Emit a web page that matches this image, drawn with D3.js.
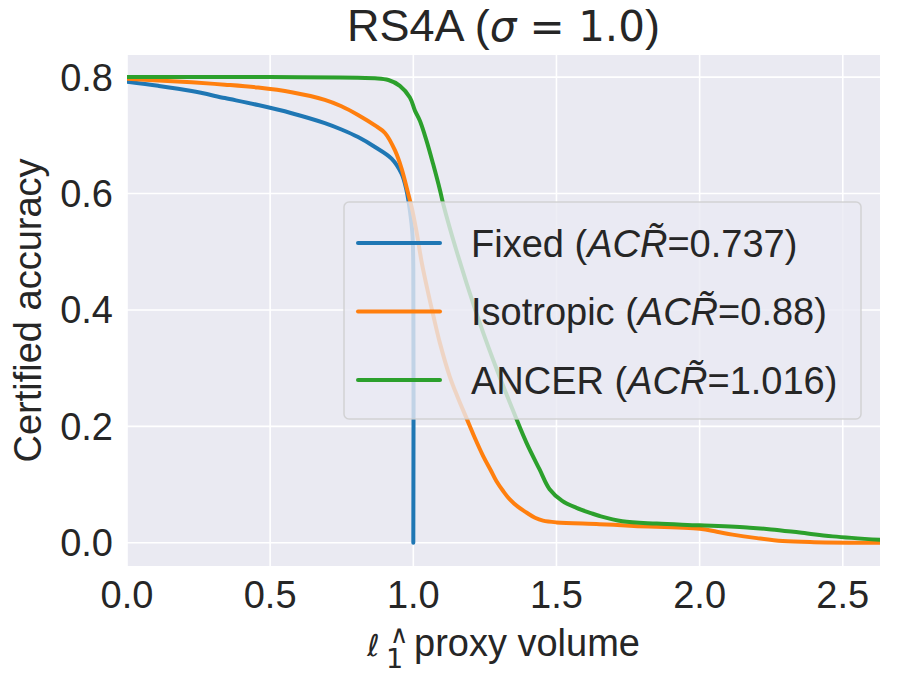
<!DOCTYPE html>
<html>
<head>
<meta charset="utf-8">
<script src="https://d3js.org/d3.v7.min.js"></script>
<style>
  body { margin: 0; background: #fff; }
  text { font-family: "Liberation Sans", Arial, sans-serif; fill: #262626; }
  .math { font-family: "DejaVu Sans", sans-serif; }
</style>
</head>
<body>
<div id="chart"></div>
<script>
// RS4A certified accuracy vs proxy volume
var xTicks = [0.0, 0.5, 1.0, 1.5, 2.0, 2.5];
var yTicks = [0.0, 0.2, 0.4, 0.6, 0.8];

var fixedX = [0, 0.109, 0.226, 0.342, 0.458, 0.575, 0.691, 0.749, 0.807, 0.866, 0.924, 0.959, 0.976, 0.988, 0.997, 1.0, 1.0];
var fixedY = [0.792, 0.785, 0.776, 0.764, 0.752, 0.738, 0.721, 0.710, 0.697, 0.680, 0.660, 0.634, 0.606, 0.571, 0.53, 0.47, 0.0];

var isoX = [0, 0.226, 0.342, 0.458, 0.575, 0.691, 0.749, 0.807, 0.866, 0.901, 0.936, 0.959, 0.982, 0.994, 1.011, 1.03, 1.052, 1.07, 1.093, 1.127, 1.155, 1.185, 1.215, 1.244, 1.27, 1.29, 1.315, 1.337, 1.365, 1.395, 1.425, 1.453, 1.5, 1.65, 1.77, 2.0, 2.06, 2.115, 2.2, 2.29, 2.4, 2.63];
var isoY = [0.797, 0.791, 0.787, 0.782, 0.774, 0.761, 0.750, 0.735, 0.717, 0.704, 0.674, 0.643, 0.600, 0.577, 0.535, 0.48, 0.429, 0.39, 0.343, 0.286, 0.25, 0.215, 0.18, 0.149, 0.125, 0.106, 0.088, 0.0745, 0.062, 0.052, 0.043, 0.038, 0.035, 0.032, 0.029, 0.024, 0.019, 0.014, 0.008, 0.003, 0.001, 0.0];

var ancerX = [0, 0.5, 0.866, 0.913, 0.953, 0.988, 1.006, 1.023, 1.046, 1.069, 1.093, 1.104, 1.15, 1.22, 1.279, 1.337, 1.395, 1.441, 1.476, 1.52, 1.57, 1.62, 1.651, 1.73, 1.85, 2.0, 2.175, 2.25, 2.35, 2.465, 2.63];
var ancerY = [0.800, 0.800, 0.798, 0.795, 0.785, 0.765, 0.742, 0.725, 0.691, 0.651, 0.606, 0.583, 0.503, 0.395, 0.314, 0.241, 0.172, 0.126, 0.092, 0.072, 0.06, 0.051, 0.046, 0.037, 0.033, 0.030, 0.026, 0.023, 0.0175, 0.011, 0.005];

var seriesNames = ["Fixed", "Isotropic", "ANCER"];
var acrValues = ["0.737", "0.88", "1.016"];
var colors = ["#1f77b4", "#ff7f0e", "#2ca02c"];

var W = 899, H = 675;
var plot = {left: 127, right: 880, top: 55, bottom: 566};

var svg = d3.select("#chart").append("svg")
    .attr("width", W).attr("height", H);

var x = d3.scaleLinear().domain([0, 2.63]).range([plot.left, plot.right]);
var y = d3.scaleLinear().domain([-0.0399, 0.838]).range([plot.bottom, plot.top]);

// background
svg.append("rect")
    .attr("x", plot.left).attr("y", plot.top)
    .attr("width", plot.right - plot.left).attr("height", plot.bottom - plot.top)
    .attr("fill", "#eaeaf2");

// grid
svg.append("g").selectAll("line").data(xTicks).enter().append("line")
    .attr("x1", function(d){ return x(d); }).attr("x2", function(d){ return x(d); })
    .attr("y1", plot.top).attr("y2", plot.bottom)
    .attr("stroke", "#fff").attr("stroke-width", 1.6);
svg.append("g").selectAll("line").data(yTicks).enter().append("line")
    .attr("y1", function(d){ return y(d); }).attr("y2", function(d){ return y(d); })
    .attr("x1", plot.left).attr("x2", plot.right)
    .attr("stroke", "#fff").attr("stroke-width", 1.6);

// tick labels
svg.append("g").selectAll("text").data(xTicks).enter().append("text")
    .attr("x", function(d){ return x(d); }).attr("y", 608)
    .attr("text-anchor", "middle").attr("font-size", 38)
    .text(function(d){ return d3.format(".1f")(d); });
svg.append("g").selectAll("text").data(yTicks).enter().append("text")
    .attr("x", 113).attr("y", function(d){ return y(d) + 13.5; })
    .attr("text-anchor", "end").attr("font-size", 38)
    .text(function(d){ return d3.format(".1f")(d); });

// curves
var line = d3.line()
    .curve(d3.curveCatmullRom.alpha(0.5))
    .x(function(d){ return x(d[0]); })
    .y(function(d){ return y(d[1]); });

var series = [
  d3.zip(fixedX, fixedY),
  d3.zip(isoX, isoY),
  d3.zip(ancerX, ancerY)
];

svg.append("defs").append("clipPath").attr("id", "clip")
  .append("rect").attr("x", plot.left).attr("y", plot.top)
  .attr("width", plot.right - plot.left).attr("height", plot.bottom - plot.top);

svg.append("g").attr("clip-path", "url(#clip)")
  .selectAll("path").data(series).enter().append("path")
    .attr("d", line)
    .attr("fill", "none")
    .attr("stroke", function(d, i){ return colors[i]; })
    .attr("stroke-width", 4)
    .attr("stroke-linejoin", "round")
    .attr("stroke-linecap", "round");

// title
var title = svg.append("text")
    .attr("x", (plot.left + plot.right) / 2).attr("y", 41)
    .attr("text-anchor", "middle").attr("font-size", 45);
title.append("tspan").text("RS4A (");
title.append("tspan").attr("class", "math").attr("font-size", 42).attr("font-style", "italic").text("σ");
title.append("tspan").attr("class", "math").attr("font-size", 42).text(" = 1.0");
title.append("tspan").text(")");

// y label
svg.append("text")
    .attr("transform", "translate(41," + ((plot.top + plot.bottom) / 2) + ") rotate(-90)")
    .attr("text-anchor", "middle").attr("font-size", 38)
    .text("Certified accuracy");

// x label: l_1^wedge proxy volume (sub and sup stacked)
var xl = svg.append("g");
xl.append("text").attr("class", "math").attr("x", 0).attr("y", 0).attr("font-size", 30)
    .attr("font-style", "italic").text("ℓ");
xl.append("text").attr("class", "math").attr("x", 19).attr("y", 12).attr("font-size", 27).text("1");
xl.append("text").attr("class", "math").attr("x", 23).attr("y", -13).attr("font-size", 25).text("∧");
var pv = xl.append("text").attr("x", 47).attr("y", 0).attr("font-size", 38).text("proxy volume");
var xlw = 47 + pv.node().getComputedTextLength();
xl.attr("transform", "translate(" + ((plot.left + plot.right) / 2 - xlw / 2) + ",656)");

// legend
var leg = svg.append("g");
leg.append("rect")
    .attr("x", 344).attr("y", 202).attr("width", 517).attr("height", 217)
    .attr("rx", 5)
    .attr("fill", "#eaeaf2").attr("fill-opacity", 0.8)
    .attr("stroke", "#cccccc").attr("stroke-opacity", 0.8).attr("stroke-width", 1.5);
var rows = leg.selectAll("g.row").data(seriesNames).enter().append("g")
    .attr("class", "row")
    .attr("transform", function(d, i){ return "translate(0," + (243 + i * 68.5) + ")"; });
rows.append("line")
    .attr("x1", 358).attr("x2", 440).attr("y1", 0).attr("y2", 0)
    .attr("stroke", function(d, i){ return colors[i]; })
    .attr("stroke-width", 4).attr("stroke-linecap", "round");
var lt = rows.append("text").attr("x", 471).attr("y", 13.5).attr("font-size", 38);
lt.append("tspan").text(function(d){ return d + " ("; });
lt.append("tspan").attr("font-style", "italic").text("ACR\u0303");
lt.append("tspan").text(function(d, i){ return "=" + acrValues[i] + ")"; });
</script>
</body>
</html>
